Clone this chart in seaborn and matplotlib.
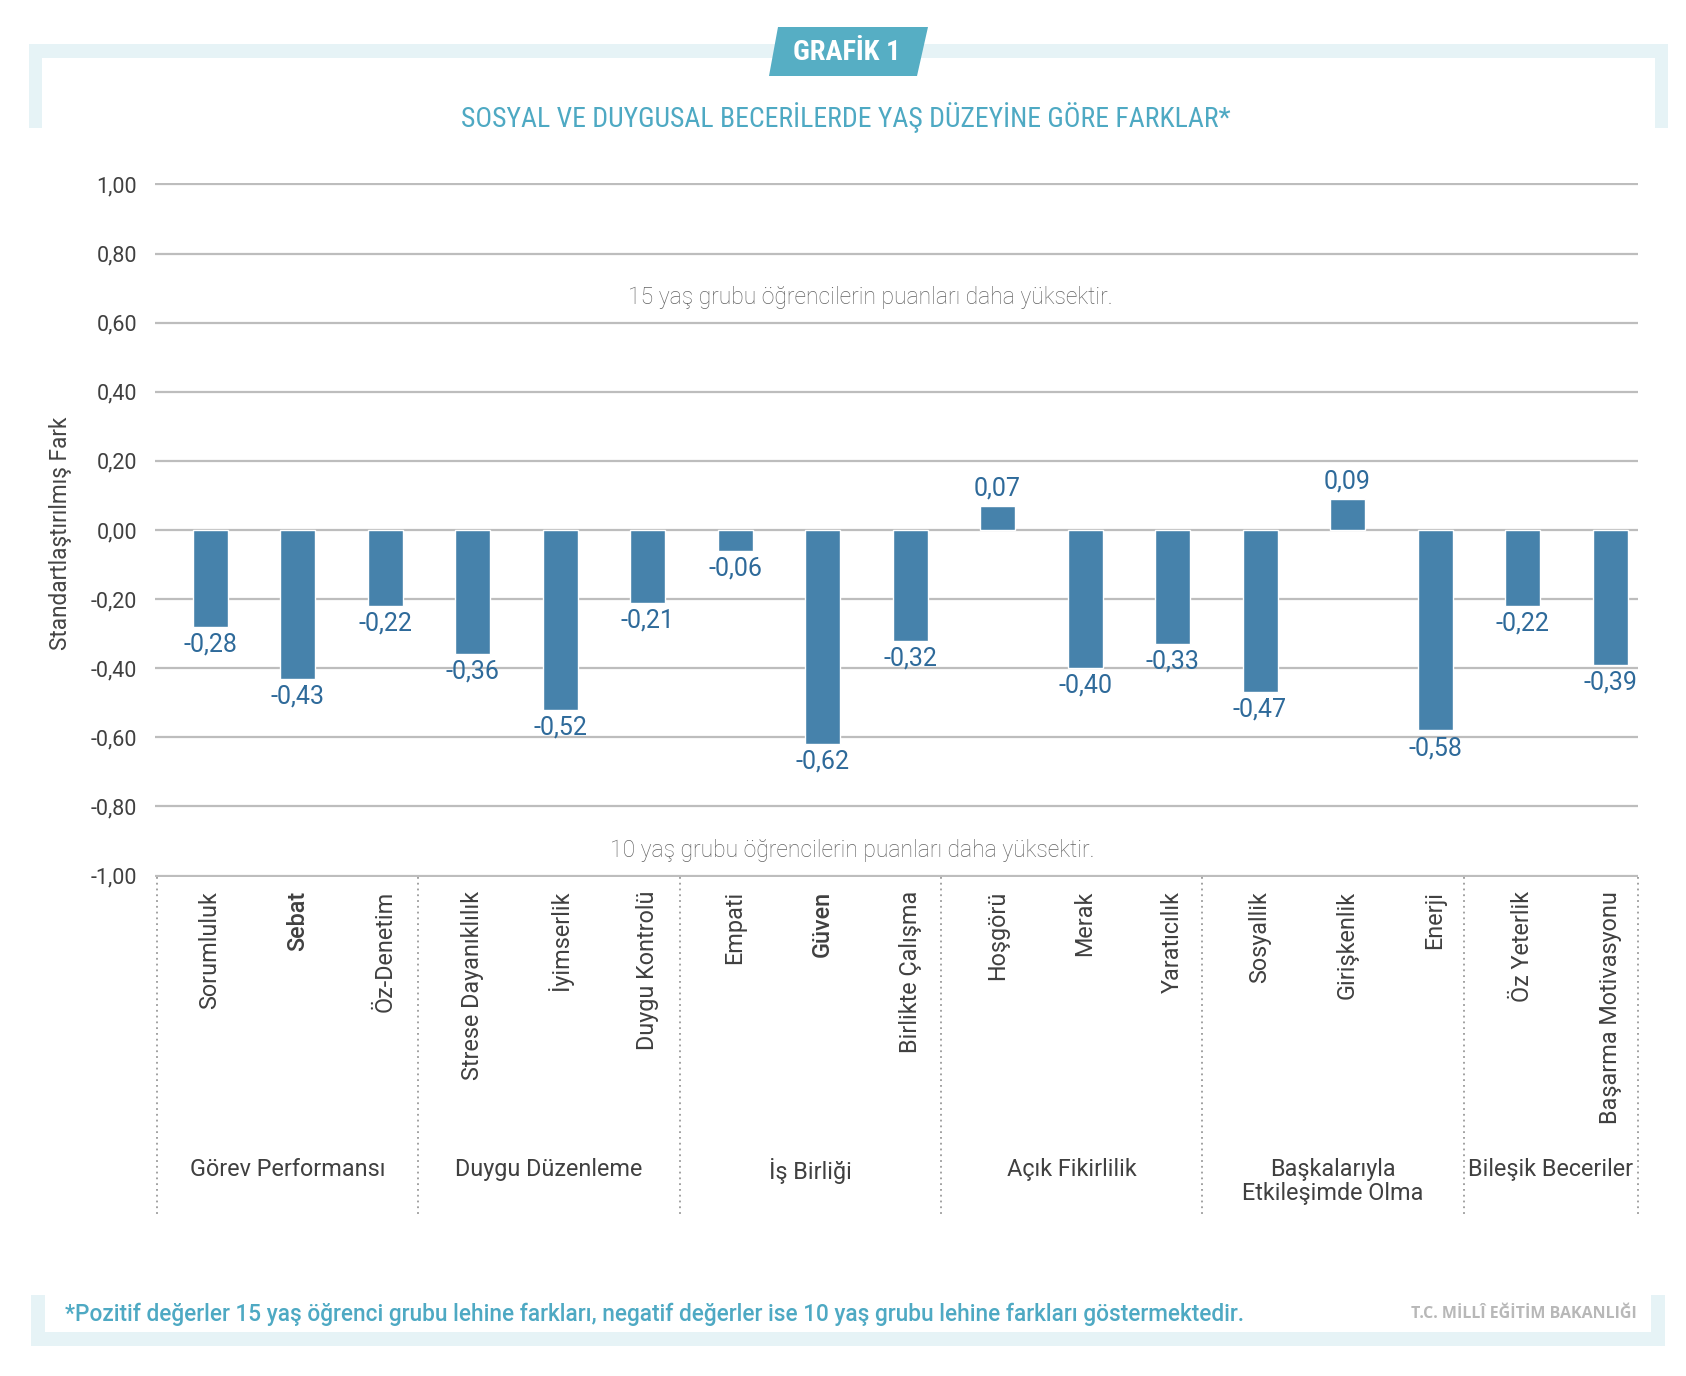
import matplotlib
matplotlib.use("Agg")
import matplotlib.pyplot as plt
import matplotlib.patches as mpatches
import matplotlib.transforms as mtransforms
from matplotlib import font_manager as fm
import numpy as np
import pandas as pd
import seaborn as sns

# --- data -----------------------------------------------------------------
skills = ["Sorumluluk", "Sebat", "Öz-Denetim",
          "Strese Dayanıklılık", "İyimserlik", "Duygu Kontrolü",
          "Empati", "Güven", "Birlikte Çalışma",
          "Hoşgörü", "Merak", "Yaratıcılık",
          "Sosyallik", "Girişkenlik", "Enerji",
          "Öz Yeterlik", "Başarma Motivasyonu"]
values = [-0.28, -0.43, -0.22,
          -0.36, -0.52, -0.21,
          -0.06, -0.62, -0.32,
          0.07, -0.40, -0.33,
          -0.47, 0.09, -0.58,
          -0.22, -0.39]
groups = ["Görev Performansı", "Duygu Düzenleme", "İş Birliği",
          "Açık Fikirlilik", "Başkalarıyla\nEtkileşimde Olma", "Bileşik Beceriler"]
group_sizes = [3, 3, 3, 3, 3, 2]
yticks = [1.0, 0.8, 0.6, 0.4, 0.2, 0.0, -0.2, -0.4, -0.6, -0.8, -1.0]

df = pd.DataFrame({"Beceri": skills, "Fark": values})

BAR = "#4682AB"
VAL = "#2E6A9A"
TEAL = "#4EA9C3"
FRAME = "#E6F3F6"
TXT = "#404040"

sns.set_style("white")
plt.rcParams["font.family"] = ["Roboto", "DejaVu Sans"]

# pick a condensed face for the headings if one is installed
names = {f.name for f in fm.fontManager.ttflist}
cond = {"family": ["Roboto", "DejaVu Sans"]}
cond_scale = 0.82
for nm in ["Roboto Condensed", "Liberation Sans Narrow", "Open Sans Condensed"]:
    if nm in names:
        cond = {"family": [nm, "DejaVu Sans"]}
        cond_scale = 1.0
        break
else:
    if any(f.name == "DejaVu Sans" and f.stretch == "condensed" for f in fm.fontManager.ttflist):
        cond = {"family": ["DejaVu Sans"], "fontstretch": "condensed"}
        cond_scale = 0.85

W, H = 1686, 1376
fig = plt.figure(figsize=(W / 100, H / 100), dpi=100)

# background layer in pixel coordinates
bg = fig.add_axes([0, 0, 1, 1], zorder=0)
bg.set_xlim(0, W)
bg.set_ylim(H, 0)
bg.axis("off")

# top frame
bg.add_patch(mpatches.Rectangle((29, 44), 1639, 14, color=FRAME, lw=0))
bg.add_patch(mpatches.Rectangle((29, 44), 13, 84, color=FRAME, lw=0))
bg.add_patch(mpatches.Rectangle((1655, 44), 13, 84, color=FRAME, lw=0))
# badge
bg.add_patch(mpatches.Polygon([(778, 27), (928, 27), (917, 76), (769, 76)],
                              closed=True, color="#56AEC4", lw=0))
bg.text(847, 52, "GRAFİK 1", color="white", fontsize=20.5 * cond_scale, fontweight="bold",
        ha="center", va="center", **cond)
bg.text(846, 118, "SOSYAL VE DUYGUSAL BECERİLERDE YAŞ DÜZEYİNE GÖRE FARKLAR*",
        color=TEAL, fontsize=20 * cond_scale, ha="center", va="center", **cond)

# footer frame
bg.add_patch(mpatches.Rectangle((31, 1295), 14, 51, color=FRAME, lw=0))
bg.add_patch(mpatches.Rectangle((31, 1332), 1634, 14, color=FRAME, lw=0))
bg.add_patch(mpatches.Rectangle((1651, 1295), 14, 51, color=FRAME, lw=0))
bg.text(65, 1314, "*Pozitif değerler 15 yaş öğrenci grubu lehine farkları, negatif değerler "
        "ise 10 yaş grubu lehine farkları göstermektedir.",
        color=TEAL, fontsize=16.3, fontweight="medium", ha="left", va="center")
bg.text(1637, 1314, "T.C. MİLLÎ EĞİTİM BAKANLIĞI", color="#B8B8B8", fontsize=11.5,
        fontweight="bold", family=["Open Sans", "DejaVu Sans"], ha="right", va="center")

# y label
fig.text(60 / W, 1 - 533 / H, "Standartlaştırılmış Fark", rotation=90, color="#444444",
         fontsize=16.3, ha="center", va="center")

# --- chart -------------------------------------------------------------------
ax = fig.add_axes([155 / W, 1 - 877 / H, 1483 / W, 694 / H], zorder=1)
ax.patch.set_alpha(0)
sns.barplot(data=df, x="Beceri", y="Fark", order=skills, color=BAR, saturation=1,
            width=0.4, ax=ax, zorder=3)
x_left, x_right = -0.63, 16.32
ax.set_xlim(x_left, x_right)
ax.set_ylim(-1.004, 1.004)
ax.set_yticks(yticks)
ax.set_yticklabels([f"{t:.2f}".replace(".", ",") for t in yticks])
ax.yaxis.grid(True, color="#BDBDBD", lw=1.6, zorder=0)
ax.xaxis.grid(False)
for s in ax.spines.values():
    s.set_visible(False)
ax.tick_params(axis="y", length=0, pad=13, labelsize=15.5, labelcolor=TXT)
ax.tick_params(axis="x", length=0, pad=10, labelsize=16.8, labelcolor=TXT)
ax.set_xlabel("")
ax.set_ylabel("")
for lab in ax.get_xticklabels():
    lab.set_rotation(90)
    lab.set_va("top")
    lab.set_ha("center")
    lab.set_fontweight("medium" if lab.get_text() in ("Sebat", "Güven") else "normal")

ax.bar_label(ax.containers[0], labels=[f"{v:.2f}".replace(".", ",") for v in values],
             padding=4, color=VAL, fontsize=18)

ax.text(7.54, 0.674, "15 yaş grubu öğrencilerin puanları daha yüksektir.", color="#626262",
        fontsize=16.5, fontweight="light", ha="center", va="center")
ax.text(7.34, -0.928, "10 yaş grubu öğrencilerin puanları daha yüksektir.", color="#626262",
        fontsize=16.5, fontweight="light", ha="center", va="center")

# group dividers split the span in proportion to group sizes
trans = mtransforms.blended_transform_factory(ax.transData, ax.transAxes)
d0 = -0.606
bounds = d0 + np.cumsum([0] + group_sizes) / sum(group_sizes) * (x_right - d0)
for b in bounds:
    ax.plot([b, b], [0, -0.49], transform=trans, clip_on=False, color="#9A9A9A",
            lw=1.3, ls=(0, (1, 2.2)))
for g, a, b in zip(groups, bounds[:-1], bounds[1:]):
    ax.text((a + b) / 2, -0.405, g, transform=trans, ha="center", va="top",
            fontsize=16.8, color=TXT, linespacing=1.05)

fig.savefig("out.png", dpi=100, facecolor="white")
